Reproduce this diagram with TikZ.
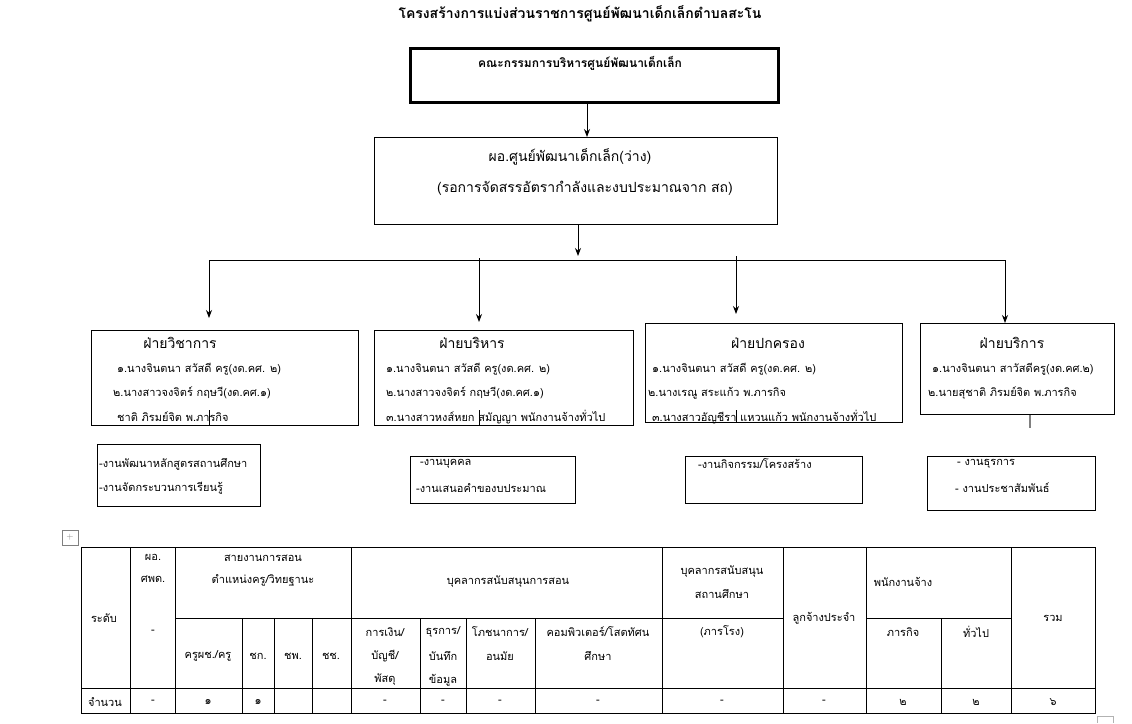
\documentclass[tikz,border=0pt]{standalone}
\usepackage{fontspec}
\newfontfamily\thaifont[Script=Thai]{Loma}
\usetikzlibrary{arrows.meta, positioning}

\tikzset{
  box/.style={draw, line width=0.8pt, anchor=north west, inner sep=0pt},
  lbl/.style={font=\thaifont\fontsize{11}{13}\selectfont, inner sep=1pt},
  big/.style={font=\thaifont\fontsize{14}{16}\selectfont, inner sep=1pt},
  arr/.style={-{Stealth[length=8pt,width=6pt]}, line width=0.8pt},
  grid/.style={line width=0.7pt}
}

\begin{document}
\begin{tikzpicture}[x=1pt, y=-1pt]
    \useasboundingbox (0,0) rectangle (1132,723);

    % title and top
    \node[big, font=\thaifont\bfseries\fontsize{14}{16}\selectfont] (title) at (580,14) {โครงสร้างการแบ่งส่วนราชการศูนย์พัฒนาเด็กเล็กตำบลสะโน};
    \node[box, line width=2.5pt, minimum width=368pt, minimum height=54pt] (board) at (409,47) {};
    \node[lbl, font=\thaifont\bfseries\fontsize{12}{14}\selectfont] at (580,63) {คณะกรรมการบริหารศูนย์พัฒนาเด็กเล็ก};
    \node[box, minimum width=403pt, minimum height=87pt] (head) at (374,137) {};
    \node[big] at (570,157) {ผอ.ศูนย์พัฒนาเด็กเล็ก(ว่าง)};
    \node[big] at (585,188) {(รอการจัดสรรอัตรากำลังและงบประมาณจาก สถ)};

    \coordinate (b1) at (587,101);
    \coordinate (h1) at (578,224);
    \coordinate (h2) at (578,256);
    \draw[arr] (b1) -- (head.north -| b1);
    \draw[arr] (h1) -- (h2);
    \draw[line width=0.8pt] (209,260) -- (1005,260);

    % departments
    \node[box, minimum width=267pt, minimum height=95pt] (dep1) at (91,330) {};
    \node[box, minimum width=259pt, minimum height=95pt] (dep2) at (374,330) {};
    \node[box, minimum width=257pt, minimum height=99pt] (dep3) at (645,323) {};
    \node[box, minimum width=194pt, minimum height=91pt] (dep4) at (920,323) {};

    \coordinate (s1) at (209,260);
    \coordinate (s2) at (479,258);
    \coordinate (s3) at (736,256);
    \coordinate (s4) at (1005,260);
    \draw[arr] (s1) -- (209,318);
    \draw[arr] (s2) -- (479,322);
    \draw[arr] (s3) -- (736,314);
    \draw[arr] (s4) -- (dep4.north -| s4);

    \node[big] at (180,343) {ฝ่ายวิชาการ};
    \node[lbl, anchor=west] at (116,369) {๑.นางจินตนา สวัสดี ครู(งด.คศ. ๒)};
    \node[lbl, anchor=west] at (112,393) {๒.นางสาวจงจิตร์  กฤษวี(งด.คศ.๑)};
    \node[lbl, anchor=west] at (116,417) {ชาติ  ภิรมย์จิต พ.ภารกิจ};

    \node[big] at (472,343) {ฝ่ายบริหาร};
    \node[lbl, anchor=west] at (385,369) {๑.นางจินตนา สวัสดี ครู(งด.คศ. ๒)};
    \node[lbl, anchor=west] at (385,393) {๒.นางสาวจงจิตร์  กฤษวี(งด.คศ.๑)};
    \node[lbl, anchor=west] at (385,417) {๓.นางสาวหงส์หยก สมัญญา พนักงานจ้างทั่วไป};

    \node[big] at (768,343) {ฝ่ายปกครอง};
    \node[lbl, anchor=west] at (651,369) {๑.นางจินตนา สวัสดี ครู(งด.คศ. ๒)};
    \node[lbl, anchor=west] at (647,393) {๒.นางเรณู สระแก้ว พ.ภารกิจ};
    \node[lbl, anchor=west] at (651,417) {๓.นางสาวอัญชีรา  แหวนแก้ว พนักงานจ้างทั่วไป};

    \node[big] at (1012,343) {ฝ่ายบริการ};
    \node[lbl, anchor=west] at (931,369) {๑.นางจินตนา  สาวัสดีครู(งด.คศ.๒)};
    \node[lbl, anchor=west] at (927,393) {๒.นายสุชาติ  ภิรมย์จิต พ.ภารกิจ};

    \draw[line width=0.8pt] (209,410) -- (dep1.south -| 209,0);
    \draw[line width=0.8pt] (479,410) -- (dep2.south -| 479,0);
    \draw[line width=0.8pt] (736,410) -- (dep3.south -| 736,0);
    \draw[line width=1.2pt, gray] (dep4.south -| 1030,0) -- (1030,428);

    % tasks
    \node[box, minimum width=163pt, minimum height=62pt] (task1) at (97,444) {};
    \node[box, minimum width=165pt, minimum height=47pt] (task2) at (410,456) {};
    \node[box, minimum width=177pt, minimum height=47pt] (task3) at (685,456) {};
    \node[box, minimum width=168pt, minimum height=54pt] (task4) at (927,456) {};
    \node[lbl, anchor=west] at (98,464) {-งานพัฒนาหลักสูตรสถานศึกษา};
    \node[lbl, anchor=west] at (98,488) {-งานจัดกระบวนการเรียนรู้};
    \node[lbl, anchor=west] at (419,464) {-งานบุคคล};
    \node[lbl, anchor=west] at (415,488) {-งานเสนอคำของบประมาณ};
    \node[lbl, anchor=west] at (697,464) {-งานกิจกรรม/โครงสร้าง};
    \node[lbl, anchor=west] at (956,464) {-  งานธุรการ};
    \node[lbl, anchor=west] at (954,488) {- งานประชาสัมพันธ์};

    % table
    \draw[line width=0.6pt, gray] (62,530) rectangle (78,545);
    \node[font=\fontsize{9}{9}\selectfont, gray, inner sep=0pt] (mv) at (70,537.5) {+};
    \draw[line width=0.6pt, gray!60] (1097,716) -- (1097,723) (1097,716) -- (1113,716) -- (1113,723);
    \draw[grid] (81,547) rectangle (1095,713);
    \draw[grid] (81,688) -- (1095,688);
    \draw[grid] (175,618) -- (783,618) (866,618) -- (1011,618);
    \foreach \x in {130,175,351,783,866,1011}
        \draw[grid] (\x,547) -- (\x,713);
    \foreach \x in {242,274,312,420,466,535,662,941}
        \draw[grid] (\x,618) -- (\x,713);
    \draw[grid] (662,547) -- (662,618);

    \node[lbl] at (104,618) {ระดับ};
    \node[lbl] at (153,557) {ผอ.};
    \node[lbl] at (153,579) {ศพด.};
    \node[lbl] at (153,632) {-};
    \node[lbl] at (263,558) {สายงานการสอน};
    \node[lbl] at (263,580) {ตำแหน่งครู/วิทยฐานะ};
    \node[lbl] at (208,656) {ครูผช./ครู};
    \node[lbl] at (258,656) {ชก.};
    \node[lbl] at (293,656) {ชพ.};
    \node[lbl] at (331,656) {ชช.};
    \node[lbl] at (508,582) {บุคลากรสนับสนุนการสอน};
    \node[lbl] at (385,632) {การเงิน/};
    \node[lbl] at (385,656) {บัญชี/};
    \node[lbl] at (385,680) {พัสดุ};
    \node[lbl] at (443,632) {ธุรการ/};
    \node[lbl] at (443,656) {บันทึก};
    \node[lbl] at (443,680) {ข้อมูล};
    \node[lbl] at (500,632) {โภชนาการ/};
    \node[lbl] at (500,656) {อนมัย};
    \node[lbl] at (598,632) {คอมพิวเตอร์/โสตทัศน};
    \node[lbl] at (598,656) {ศึกษา};
    \node[lbl] at (722,572) {บุคลากรสนับสนุน};
    \node[lbl] at (722,594) {สถานศึกษา};
    \node[lbl] at (722,632) {(ภารโรง)};
    \node[lbl] at (824,618) {ลูกจ้างประจำ};
    \node[lbl] at (903,582) {พนักงานจ้าง};
    \node[lbl] at (903,632) {ภารกิจ};
    \node[lbl] at (976,632) {ทั่วไป};
    \node[lbl] at (1053,618) {รวม};

    \node[lbl] at (105,702) {จำนวน};
    \foreach \x/\v in {153/-, 208/๑, 258/๑, 385/-, 443/-, 500/-, 598/-, 722/-, 824/-, 903/๒, 976/๒, 1053/๖}
        \node[lbl] at (\x,702) {\v};
\end{tikzpicture}
\end{document}
